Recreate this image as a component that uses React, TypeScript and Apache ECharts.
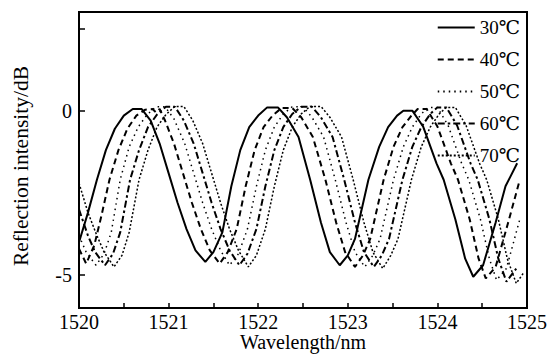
import React, { useEffect, useRef } from "react";
import * as echarts from "echarts";

const legendNames = ["30℃", "40℃", "50℃", "60℃", "70℃"];

const wl30 = [1520.0, 1520.1, 1520.2, 1520.3, 1520.4, 1520.5, 1520.6, 1520.7, 1520.8, 1520.9, 1521.0, 1521.1, 1521.2, 1521.3, 1521.41, 1521.5, 1521.6, 1521.7, 1521.8, 1521.9, 1522.0, 1522.1, 1522.22, 1522.32, 1522.45, 1522.58, 1522.7, 1522.8, 1522.91, 1523.0, 1523.08, 1523.23, 1523.35, 1523.45, 1523.55, 1523.62, 1523.72, 1523.84, 1523.99, 1524.07, 1524.2, 1524.31, 1524.4, 1524.51, 1524.65, 1524.76, 1524.89];
const r30 = [-4.0, -3.1, -2.1, -1.2, -0.55, -0.15, 0.05, 0.05, -0.3, -1.0, -1.9, -2.8, -3.6, -4.25, -4.6, -4.3, -3.7, -2.3, -1.2, -0.5, -0.15, 0.1, 0.1, -0.2, -0.8, -2.1, -3.4, -4.3, -4.7, -4.4, -3.9, -2.1, -1.1, -0.5, -0.15, 0.0, 0.0, -0.48, -1.6, -2.1, -3.3, -4.5, -5.05, -4.7, -3.4, -2.3, -1.6];

const wl40 = [1520.0, 1520.08, 1520.17, 1520.25, 1520.34, 1520.44, 1520.54, 1520.64, 1520.74, 1520.82, 1520.86, 1520.9, 1520.96, 1521.06, 1521.16, 1521.26, 1521.36, 1521.46, 1521.57, 1521.66, 1521.76, 1521.86, 1521.96, 1522.06, 1522.16, 1522.26, 1522.38, 1522.48, 1522.61, 1522.75, 1522.87, 1522.97, 1523.08, 1523.17, 1523.25, 1523.4, 1523.51, 1523.61, 1523.71, 1523.78, 1523.88, 1524.0, 1524.15, 1524.23, 1524.36, 1524.46, 1524.54, 1524.65, 1524.79, 1524.92];
const r40 = [-4.2, -4.65, -4.1, -3.2, -2.1, -1.2, -0.55, -0.15, 0.03, 0.05, -0.05, 0.05, -0.3, -1.0, -1.9, -2.8, -3.6, -4.25, -4.65, -4.3, -3.6, -2.3, -1.2, -0.5, -0.15, 0.08, 0.08, -0.2, -0.8, -2.1, -3.4, -4.3, -4.75, -4.4, -3.9, -2.1, -1.1, -0.5, -0.15, 0.05, 0.05, -0.48, -1.6, -2.1, -3.3, -4.5, -5.1, -4.75, -3.4, -2.1];

const wl50 = [1520.0, 1520.08, 1520.19, 1520.28, 1520.36, 1520.46, 1520.56, 1520.66, 1520.76, 1520.86, 1520.96, 1521.06, 1521.18, 1521.28, 1521.38, 1521.48, 1521.58, 1521.68, 1521.78, 1521.88, 1521.98, 1522.08, 1522.18, 1522.28, 1522.38, 1522.5, 1522.6, 1522.73, 1522.86, 1522.98, 1523.08, 1523.19, 1523.28, 1523.36, 1523.51, 1523.62, 1523.72, 1523.82, 1523.9, 1524.0, 1524.12, 1524.27, 1524.35, 1524.48, 1524.58, 1524.66, 1524.77, 1524.92];
const r50 = [-3.8, -4.3, -4.7, -4.35, -3.7, -2.1, -1.1, -0.5, -0.12, 0.12, 0.12, -0.25, -1.0, -1.9, -2.8, -3.6, -4.25, -4.7, -4.35, -3.6, -2.3, -1.2, -0.5, -0.1, 0.12, 0.12, -0.2, -0.8, -2.1, -3.4, -4.3, -4.75, -4.4, -3.9, -2.1, -1.1, -0.5, -0.1, 0.1, 0.1, -0.45, -1.6, -2.1, -3.3, -4.5, -5.15, -4.8, -3.3];

const wl60 = [1520.0, 1520.1, 1520.18, 1520.29, 1520.38, 1520.46, 1520.57, 1520.67, 1520.77, 1520.87, 1520.97, 1521.07, 1521.17, 1521.28, 1521.38, 1521.48, 1521.58, 1521.68, 1521.79, 1521.88, 1521.98, 1522.08, 1522.18, 1522.28, 1522.38, 1522.48, 1522.6, 1522.7, 1522.83, 1522.96, 1523.08, 1523.18, 1523.29, 1523.38, 1523.46, 1523.61, 1523.72, 1523.82, 1523.92, 1524.0, 1524.1, 1524.22, 1524.37, 1524.45, 1524.58, 1524.68, 1524.77, 1524.88];
const r60 = [-3.0, -3.8, -4.3, -4.7, -4.35, -3.7, -2.1, -1.2, -0.5, -0.12, 0.12, 0.12, -0.3, -1.0, -1.9, -2.8, -3.6, -4.25, -4.7, -4.35, -3.6, -2.3, -1.2, -0.5, -0.1, 0.12, 0.12, -0.2, -0.8, -2.1, -3.4, -4.3, -4.75, -4.4, -3.9, -2.1, -1.1, -0.5, -0.1, 0.1, 0.1, -0.45, -1.6, -2.1, -3.3, -4.5, -5.2, -4.8];

const wl70 = [1520.0, 1520.1, 1520.2, 1520.28, 1520.39, 1520.48, 1520.56, 1520.67, 1520.77, 1520.87, 1520.97, 1521.07, 1521.17, 1521.27, 1521.38, 1521.48, 1521.58, 1521.68, 1521.78, 1521.89, 1521.98, 1522.08, 1522.18, 1522.28, 1522.38, 1522.48, 1522.58, 1522.7, 1522.8, 1522.93, 1523.06, 1523.18, 1523.28, 1523.39, 1523.48, 1523.56, 1523.71, 1523.82, 1523.92, 1524.02, 1524.1, 1524.2, 1524.32, 1524.47, 1524.55, 1524.68, 1524.78, 1524.88, 1524.97];
const r70 = [-2.2, -3.1, -3.8, -4.3, -4.75, -4.4, -3.7, -2.1, -1.2, -0.5, -0.12, 0.13, 0.13, -0.3, -1.0, -1.9, -2.8, -3.6, -4.25, -4.75, -4.4, -3.6, -2.3, -1.2, -0.5, -0.1, 0.13, 0.13, -0.2, -0.8, -2.1, -3.4, -4.3, -4.8, -4.4, -3.9, -2.1, -1.1, -0.5, -0.1, 0.1, 0.1, -0.45, -1.6, -2.1, -3.3, -4.5, -5.25, -4.9];

const xTickValues = [1520, 1520.5, 1521, 1521.5, 1522, 1522.5, 1523, 1523.5, 1524, 1524.5, 1525];
const xLabelValues = [1520, 1521, 1522, 1523, 1524, 1525];
const yTickValues = [-5, 0, 2.5];
const yLabelValues = [-5, 0];

const FONT = "Times New Roman, Liberation Serif, DejaVu Serif, serif";

export default function App() {
  const ref = useRef<HTMLDivElement>(null);
  useEffect(() => {
    if (!ref.current) return;
    const chart = echarts.init(ref.current, undefined, { renderer: "svg" });
    const pairs = (xs: number[], ys: number[]) => xs.map((x, i) => [x, ys[i]]);
    const styles: any[] = [
      { type: "solid", width: 2 },
      { type: [6, 4], width: 2 },
      { type: [1.5, 4], width: 1.5 },
      { type: [7, 3, 2.5, 3], width: 2 },
      { type: [2, 2], width: 1.5 },
    ];
    const datasets = [
      pairs(wl30, r30),
      pairs(wl40, r40),
      pairs(wl50, r50),
      pairs(wl60, r60),
      pairs(wl70, r70),
    ];
    chart.setOption({
      animation: false,
      backgroundColor: "#fff",
      textStyle: { fontFamily: FONT },
      grid: {
        left: 79,
        right: 23,
        top: 12,
        bottom: 46,
        show: true,
        borderColor: "#000",
        borderWidth: 2,
        containLabel: false,
        outerBoundsMode: "none",
      },
      legend: {
        orient: "vertical",
        right: 25,
        top: 13,
        itemWidth: 37,
        itemHeight: 14,
        itemGap: 13,
        align: "left",
        data: legendNames,
        itemStyle: { opacity: 0 },
        textStyle: { fontFamily: FONT, fontSize: 19, color: "#000" },
      },
      xAxis: {
        type: "value",
        min: 1520,
        max: 1525,
        interval: 0.5,
        name: "Wavelength/nm",
        nameLocation: "middle",
        nameGap: 24,
        nameMoveOverlap: false,
        nameTextStyle: { fontFamily: FONT, fontSize: 20, color: "#000" },
        axisLine: { onZero: false, lineStyle: { color: "#000", width: 2 } },
        axisTick: {
          inside: true,
          length: 5,
          customValues: xTickValues,
          lineStyle: { color: "#000", width: 1.5 },
        },
        axisLabel: {
          customValues: xLabelValues,
          margin: 4,
          fontFamily: FONT,
          fontSize: 20,
          color: "#000",
          formatter: (v: number) => String(Math.round(v)),
        },
        splitLine: { show: false },
      },
      yAxis: {
        type: "value",
        min: -6,
        max: 3,
        name: "Reflection intensity/dB",
        nameLocation: "middle",
        nameRotate: 90,
        nameGap: 47,
        nameMoveOverlap: false,
        nameTextStyle: {
          fontFamily: FONT,
          fontSize: 21.5,
          color: "#000",
          padding: [0, 12, 0, 0],
        },
        axisLine: { onZero: false, lineStyle: { color: "#000", width: 2 } },
        axisTick: {
          inside: true,
          length: 6,
          customValues: yTickValues,
          lineStyle: { color: "#000", width: 1.5 },
        },
        axisLabel: {
          customValues: yLabelValues,
          margin: 7,
          fontFamily: FONT,
          fontSize: 20,
          color: "#000",
        },
        splitLine: { show: false },
      },
      series: legendNames.map((name, i) => ({
        name,
        type: "line",
        data: datasets[i],
        symbol: "none",
        showSymbol: false,
        smooth: false,
        lineStyle: { color: "#000", ...styles[i] },
        itemStyle: { color: "#000" },
      })),
    });
    return () => chart.dispose();
  }, []);
  return (
    <div
      ref={ref}
      style={{ position: "fixed", left: 0, top: 0, width: 550, height: 354 }}
    />
  );
}
